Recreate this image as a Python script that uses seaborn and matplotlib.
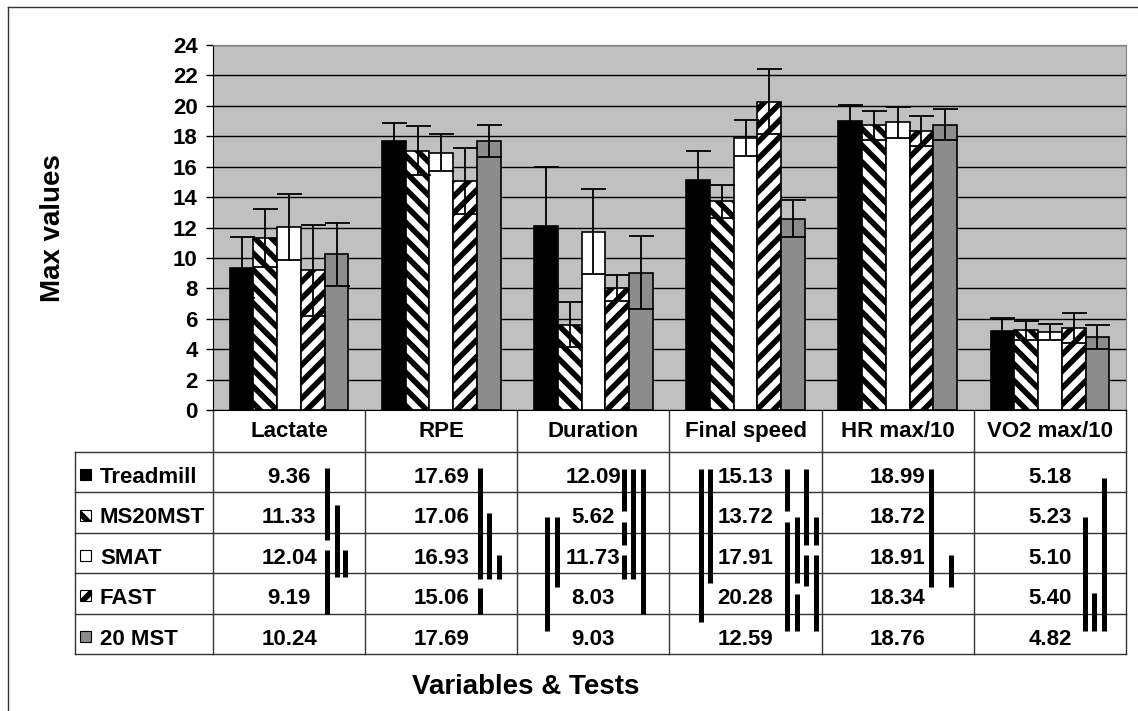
import matplotlib.pyplot as plt
import numpy as np
import pandas as pd
import seaborn as sns
from matplotlib.patches import Rectangle

variables = ["Lactate", "RPE", "Duration", "Final speed", "HR max/10", "VO2 max/10"]
tests = ["Treadmill", "MS20MST", "SMAT", "FAST", "20 MST"]

treadmill = [9.36, 17.69, 12.09, 15.13, 18.99, 5.18]
ms20mst = [11.33, 17.06, 5.62, 13.72, 18.72, 5.23]
smat = [12.04, 16.93, 11.73, 17.91, 18.91, 5.10]
fast = [9.19, 15.06, 8.03, 20.28, 18.34, 5.40]
mst20 = [10.24, 17.69, 9.03, 12.59, 18.76, 4.82]

# standard deviations (error bars)
treadmill_sd = [2.0, 1.16, 3.9, 1.92, 1.06, 0.89]
ms20mst_sd = [1.9, 1.6, 1.45, 1.07, 0.94, 0.63]
smat_sd = [2.15, 1.2, 2.8, 1.19, 1.0, 0.53]
fast_sd = [3.0, 2.2, 0.85, 2.14, 1.0, 1.0]
mst20_sd = [2.07, 1.05, 2.4, 1.24, 1.03, 0.78]

# significance brackets in the table: (variable, x offset in column, from row, to row)
sig_segments = [
	(0, 114, 0.40, 2.18), (0, 114, 2.43, 4.0), (0, 124, 1.31, 3.09), (0, 132, 2.43, 3.09),
	(1, 115, 0.40, 3.14), (1, 124, 1.51, 3.14), (1, 134, 2.56, 3.14), (1, 115, 3.36, 4.0),
	(2, 30, 1.61, 4.43), (2, 40, 1.61, 3.34), (2, 107, 0.42, 1.46), (2, 107, 1.73, 2.30),
	(2, 107, 2.56, 3.14), (2, 116, 0.42, 3.14), (2, 126, 0.42, 4.0),
	(3, 32, 0.42, 4.21), (3, 41, 0.42, 3.24), (3, 118, 0.42, 1.46), (3, 118, 1.73, 4.43),
	(3, 128, 1.61, 3.24), (3, 128, 3.51, 4.43), (3, 137, 0.42, 2.30), (3, 137, 2.56, 3.32),
	(3, 147, 1.61, 2.30), (3, 147, 2.56, 4.43),
	(4, 109, 0.42, 3.34), (4, 129, 2.56, 3.34),
	(5, 111, 1.61, 4.43), (5, 120, 3.49, 4.43), (5, 130, 0.64, 4.43),
]

series = [treadmill, ms20mst, smat, fast, mst20]
sds = [treadmill_sd, ms20mst_sd, smat_sd, fast_sd, mst20_sd]
faces = ["black", "white", "white", "white", "#8c8c8c"]
hatches = ["", "\\\\", "", "//", ""]

df = pd.DataFrame(
	[{"variable": v, "test": t, "value": vals[i]} for t, vals in zip(tests, series) for i, v in enumerate(variables)]
)

plt.rcParams["font.family"] = ["Liberation Sans", "DejaVu Sans"]
plt.rcParams["font.weight"] = "bold"
plt.rcParams["hatch.linewidth"] = 4.0

W, H = 1138, 711
fig = plt.figure(figsize=(W / 100, H / 100), dpi=100)

# overlay in pixel coordinates for the data table and frame
tab = fig.add_axes([0, 0, 1, 1])
tab.set_xlim(0, W)
tab.set_ylim(H, 0)
tab.axis("off")

ax = fig.add_axes([213 / W, 1 - 410 / H, 913 / W, 365 / H])
sns.barplot(
	data=df,
	x="variable",
	y="value",
	hue="test",
	order=variables,
	hue_order=tests,
	palette=dict(zip(tests, faces)),
	width=0.78,
	errorbar=None,
	edgecolor="black",
	linewidth=1.2,
	legend=False,
	ax=ax,
)
for container, sd, face, hatch in zip(ax.containers, sds, faces, hatches):
	for bar in container:
		bar.set_facecolor(face)
		bar.set_hatch(hatch)
		bar.set_edgecolor("black")
	xs = [b.get_x() + b.get_width() / 2 for b in container]
	ys = [b.get_height() for b in container]
	ax.errorbar(xs, ys, yerr=sd, fmt="none", ecolor="black", elinewidth=1.3,
		capsize=9, capthick=1.3, zorder=5)

ax.set_facecolor("#c0c0c0")
ax.set_ylim(0, 24)
ax.set_xlim(-0.5, 5.5)
ax.set_yticks(np.arange(0, 25, 2))
ax.set_axisbelow(True)
ax.yaxis.grid(True, color="black", linewidth=1)
ax.set_xticks([])
ax.set_xlabel("")
ax.set_ylabel("")
ax.tick_params(axis="y", direction="out", length=5, width=1, pad=6, labelsize=16)
for lab in ax.get_yticklabels():
	lab.set_fontweight("bold")
for side in ["top", "right"]:
	ax.spines[side].set_color("#808080")
for side in ["left", "bottom"]:
	ax.spines[side].set_color("black")

# data table
col_x = np.linspace(213, 1126, len(variables) + 1)
row_top = 452
row_h = 40.4
rows_y = row_top + row_h * np.arange(len(tests) + 1)
line_kw = dict(color="#333333", linewidth=1)

tab.plot([col_x[0], col_x[0]], [410, rows_y[-1]], **line_kw)
tab.plot([col_x[-1], col_x[-1]], [410, rows_y[-1]], **line_kw)
for x in col_x[1:-1]:
	tab.plot([x, x], [410, rows_y[-1]], **line_kw)
tab.plot([75, 75], [rows_y[0], rows_y[-1]], **line_kw)
for y in rows_y:
	tab.plot([75, col_x[-1]], [y, y], **line_kw)

for i, name in enumerate(variables):
	cx = (col_x[i] + col_x[i + 1]) / 2
	tab.text(cx, 437, name, ha="center", va="baseline", fontsize=16, fontweight="bold")
	for j, vals in enumerate(series):
		tab.text(cx, rows_y[j] + 31, f"{vals[i]:.2f}", ha="center", va="baseline",
			fontsize=16, fontweight="bold")

for j, (name, face, hatch) in enumerate(zip(tests, faces, hatches)):
	yc = rows_y[j] + row_h / 2 + 3
	tab.add_patch(Rectangle((80, yc - 6), 11, 11, facecolor=face, hatch=hatch,
		edgecolor="black", linewidth=0.8))
	tab.text(100, rows_y[j] + 31, name, ha="left", va="baseline", fontsize=16, fontweight="bold")

for col, off, r0, r1 in sig_segments:
	x = col_x[col] + off
	tab.plot([x, x], [row_top + r0 * row_h, row_top + r1 * row_h], color="black",
		linewidth=3.6, solid_capstyle="butt")

# outer frame and axis titles
tab.plot([8, 8], [7, H], color="#333333", linewidth=1)
tab.plot([8, W], [7, 7], color="#333333", linewidth=1)
tab.text(53, 228, "Max values", rotation=90, ha="center", va="center", fontsize=20, fontweight="bold")
tab.text(526, 687, "Variables & Tests", ha="center", va="center", fontsize=20, fontweight="bold")

fig.savefig("out.png", dpi=100)
